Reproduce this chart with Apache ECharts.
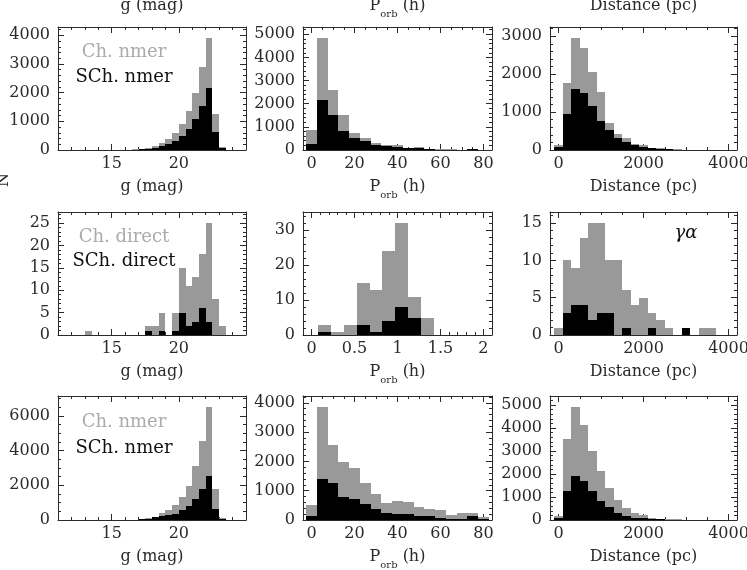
<!DOCTYPE html>
<html><head><meta charset="utf-8">
<script src="https://cdn.jsdelivr.net/npm/echarts@6/dist/echarts.min.js"></script>
<style>html,body{margin:0;padding:0;background:#fff}#c{width:747px;height:570px}</style>
</head><body><div id="c"></div>
<script>
// ---------------- data ----------------
// bin centres
const gCentres = [15.25,15.75,16.25,16.75,17.25,17.75,18.25,18.75,19.25,19.75,20.25,20.75,21.25,21.75,22.25,22.75,23.25];
const gDirectCentres = [13.25,13.75,14.25,14.75,15.25,15.75,16.25,16.75,17.25,17.75,18.25,18.75,19.25,19.75,20.25,20.75,21.25,21.75,22.25,22.75,23.25];
const pCentres = [0,5,10,15,20,25,30,35,40,45,50,55,60,65,70,75,80];
const pDirectCentres = [0.15,0.30,0.45,0.60,0.75,0.90,1.05,1.20,1.35];
const dCentres = [0,200,400,600,800,1000,1200,1400,1600,1800,2000,2200,2400,2600,2800,3000,3200,3400,3600,3800,4000];
const dDirectCentres = [0,200,400,600,800,1000,1200,1400,1600,1800,2000,2200,2400,2600,2800,3000,3200,3400,3600];
const gBinWidth = 0.5, pBinWidth = 5, pDirectBinWidth = 0.15, dBinWidth = 200;

// row 1 : nmer
const gChNmer1  = [3,5,10,20,40,80,130,230,370,600,920,1370,2000,2900,3900,1250,100];
const gSChNmer1 = [2,3,6,12,25,50,80,130,200,300,480,740,1080,1550,2150,620,80];
const pChNmer1  = [850,4830,2600,1500,750,500,300,220,200,100,110,40,30,25,20,60,10];
const pSChNmer1 = [250,2150,1500,800,520,400,230,180,150,80,100,30,20,15,10,50,5];
const dChNmer1  = [130,1780,2950,2700,2050,1520,700,420,320,150,120,60,40,30,20,10,8,5,5,3,3];
const dSChNmer1 = [90,950,1620,1500,1150,770,520,320,200,140,70,40,25,15,10,6,4,3,2,2,1];

// row 2 : direct
const gChDirect  = [1,0,0,0,0,0,0,0,0,2,2,5,0,5,15,11,13,18,25,8,2];
const gSChDirect = [0,0,0,0,0,0,0,0,0,1,0,1,0,1,5,2,3,6,3,0,0];
const pChDirect  = [3,1,3,15,13,24,32,11,5];
const pSChDirect = [1,0,0,3,1,4,8,5,0];
const dChDirect  = [1,10,9,13,15,15,10,10,6,4,5,3,2,1,0,1,0,1,1];
const dSChDirect = [0,3,4,4,2,3,3,0,1,0,0,1,0,0,0,1,0,0,0];

// row 3 : nmer
const gChNmer3  = [3,6,12,25,50,100,190,385,570,865,1350,1960,3100,4560,6500,1770,90];
const gSChNmer3 = [2,4,8,15,40,80,150,230,290,330,580,810,1190,1770,2550,620,60];
const pChNmer3  = [500,3850,2560,1970,1780,1280,900,580,650,600,450,370,350,180,230,230,100];
const pSChNmer3 = [150,1400,1250,800,720,560,380,230,200,200,150,130,60,50,50,120,30];
const dChNmer3  = [170,3500,4900,4150,3000,2150,1380,870,500,320,200,100,60,40,30,20,15,10,8,5,5];
const dSChNmer3 = [100,1270,1920,1710,1260,840,550,320,170,100,70,40,25,15,10,8,5,4,3,2,2];

// tick labels
const gTicks = [15, 20];
const pTicks = [0, 20, 40, 60, 80];
const pDirectTicks = [0, 0.5, 1, 1.5, 2];
const dTicks = [0, 2000, 4000];
const yTicks1 = [0,1000,2000,3000,4000];
const yTicks2 = [0,1000,2000,3000,4000,5000];
const yTicks3 = [0,1000,2000,3000];
const yTicks4 = [0,5,10,15,20,25];
const yTicks5 = [0,10,20,30];
const yTicks6 = [0,5,10,15];
const yTicks7 = [0,2000,4000,6000];
const yTicks8 = [0,1000,2000,3000,4000];
const yTicks9 = [0,1000,2000,3000,4000,5000];

// ---------------- styling / layout ----------------
const FONT = 'DejaVu Serif';
const INK = '#2a2a2a';
const GREY = '#999999';
const LIGHT = '#ababab';
const colLeft = [58, 303, 550], colWidth = [188, 189, 187];
const rowTop = [27, 212, 396], rowHeight = [123, 123, 124];

const names = {
  g: '{p|g (mag)}',
  p: '{p|P}{s|orb}{p| (h)}',
  d: '{p|Distance (pc)}'
};
const nameRich = {
  p: {fontFamily: FONT, fontSize: 16, color: INK, lineHeight: 26, verticalAlign: 'middle'},
  s: {fontFamily: FONT, fontSize: 10, color: INK, lineHeight: 10, verticalAlign: 'bottom'}
};

function steps(lo, hi, step) {
  const out = [];
  const n = Math.round((hi - lo) / step);
  for (let i = 0; i <= n; i++) out.push(+(lo + i * step).toFixed(6));
  return out;
}

const panels = [
  {c:0,r:0,kind:'g',centres:gCentres,w:gBinWidth,all:gChNmer1,sub:gSChNmer1,xmin:11,xmax:25,xMaj:gTicks,xMinor:steps(11,25,1),yMaj:yTicks1,yStep:200},
  {c:1,r:0,kind:'p',centres:pCentres,w:pBinWidth,all:pChNmer1,sub:pSChNmer1,xmin:-4,xmax:84,xMaj:pTicks,xMinor:steps(0,80,5),yMaj:yTicks2,yStep:200},
  {c:2,r:0,kind:'d',centres:dCentres,w:dBinWidth,all:dChNmer1,sub:dSChNmer1,xmin:-200,xmax:4200,xMaj:dTicks,xMinor:steps(0,4000,500),yMaj:yTicks3,yStep:200},
  {c:0,r:1,kind:'g',centres:gDirectCentres,w:gBinWidth,all:gChDirect,sub:gSChDirect,xmin:11,xmax:25,xMaj:gTicks,xMinor:steps(11,25,1),yMaj:yTicks4,yStep:1},
  {c:1,r:1,kind:'p',centres:pDirectCentres,w:pDirectBinWidth,all:pChDirect,sub:pSChDirect,xmin:-0.1,xmax:2.1,xMaj:pDirectTicks,xMinor:steps(0,2,0.1),yMaj:yTicks5,yStep:2},
  {c:2,r:1,kind:'d',centres:dDirectCentres,w:dBinWidth,all:dChDirect,sub:dSChDirect,xmin:-200,xmax:4200,xMaj:dTicks,xMinor:steps(0,4000,500),yMaj:yTicks6,yStep:1},
  {c:0,r:2,kind:'g',centres:gCentres,w:gBinWidth,all:gChNmer3,sub:gSChNmer3,xmin:11,xmax:25,xMaj:gTicks,xMinor:steps(11,25,1),yMaj:yTicks7,yStep:500},
  {c:1,r:2,kind:'p',centres:pCentres,w:pBinWidth,all:pChNmer3,sub:pSChNmer3,xmin:-4,xmax:84,xMaj:pTicks,xMinor:steps(0,80,5),yMaj:yTicks8,yStep:200},
  {c:2,r:2,kind:'d',centres:dCentres,w:dBinWidth,all:dChNmer3,sub:dSChNmer3,xmin:-200,xmax:4200,xMaj:dTicks,xMinor:steps(0,4000,500),yMaj:yTicks9,yStep:200}
];

const grid = [], xAxis = [], yAxis = [], series = [];
const lineStyle = {color: INK, width: 1};
const plain = v => String(+v.toFixed(6));

function axisBase(k, extra) {
  return Object.assign({
    type: 'value', gridIndex: k,
    splitLine: {show: false}, minorTick: {show: false}, minorSplitLine: {show: false}
  }, extra);
}

function renderBar(color) {
  return function (params, api) {
    const x0 = api.value(0), x1 = api.value(1), y = api.value(2);
    if (!y) return null;
    const a = api.coord([x0, y]);
    const b = api.coord([x1, 0]);
    const L = Math.round(a[0]), R = Math.round(b[0]);
    const T = Math.round(a[1]), B = Math.round(b[1]);
    return {type: 'rect', shape: {x: L, y: T, width: R - L, height: B - T},
            style: {fill: color}};
  };
}

panels.forEach((p, k) => {
  grid.push({left: colLeft[p.c], top: rowTop[p.r], width: colWidth[p.c], height: rowHeight[p.r],
             containLabel: false, outerBoundsMode: 'none'});
  const ymax = Math.max.apply(null, p.all) * 1.1;
  const yMinor = steps(0, Math.floor(ymax / p.yStep) * p.yStep, p.yStep);
  const majLabel = {show: true, margin: 6, fontFamily: FONT, fontSize: 16, color: INK, formatter: plain};
  // x axes: bottom major, bottom minor, top major, top minor
  xAxis.push(axisBase(k, {position: 'bottom', min: p.xmin, max: p.xmax,
    axisLine: {show: true, onZero: false, lineStyle},
    axisTick: {show: true, inside: true, length: 6, customValues: p.xMaj, lineStyle},
    axisLabel: Object.assign({customValues: p.xMaj}, majLabel),
    name: names[p.kind], nameLocation: 'middle', nameGap: 24,
    nameTextStyle: {rich: nameRich}}));
  xAxis.push(axisBase(k, {position: 'bottom', min: p.xmin, max: p.xmax,
    axisLine: {show: false, onZero: false},
    axisTick: {show: true, inside: true, length: 3, customValues: p.xMinor, lineStyle},
    axisLabel: {show: false}}));
  const top = {position: 'top', min: p.xmin, max: p.xmax,
    axisLine: {show: true, onZero: false, lineStyle},
    axisTick: {show: true, inside: true, length: 6, customValues: p.xMaj, lineStyle},
    axisLabel: {show: false}};
  if (p.r === 0) {
    top.name = names[p.kind]; top.nameLocation = 'middle'; top.nameGap = 8;
    top.nameTextStyle = {rich: nameRich};
  }
  xAxis.push(axisBase(k, top));
  xAxis.push(axisBase(k, {position: 'top', min: p.xmin, max: p.xmax,
    axisLine: {show: false, onZero: false},
    axisTick: {show: true, inside: true, length: 3, customValues: p.xMinor, lineStyle},
    axisLabel: {show: false}}));
  // y axes: left major, left minor, right major, right minor
  yAxis.push(axisBase(k, {position: 'left', min: 0, max: ymax,
    axisLine: {show: true, onZero: false, lineStyle},
    axisTick: {show: true, inside: true, length: 6, customValues: p.yMaj, lineStyle},
    axisLabel: Object.assign({customValues: p.yMaj}, majLabel, {margin: 8})}));
  yAxis.push(axisBase(k, {position: 'left', min: 0, max: ymax,
    axisLine: {show: false, onZero: false},
    axisTick: {show: true, inside: true, length: 3, customValues: yMinor, lineStyle},
    axisLabel: {show: false}}));
  yAxis.push(axisBase(k, {position: 'right', min: 0, max: ymax,
    axisLine: {show: true, onZero: false, lineStyle},
    axisTick: {show: true, inside: true, length: 6, customValues: p.yMaj, lineStyle},
    axisLabel: {show: false}}));
  yAxis.push(axisBase(k, {position: 'right', min: 0, max: ymax,
    axisLine: {show: false, onZero: false},
    axisTick: {show: true, inside: true, length: 3, customValues: yMinor, lineStyle},
    axisLabel: {show: false}}));

  const toData = vals => vals.map((v, i) => [p.centres[i] - p.w / 2, p.centres[i] + p.w / 2, v]);
  series.push({type: 'custom', name: 'Ch.', xAxisIndex: 4 * k, yAxisIndex: 4 * k,
    renderItem: renderBar(GREY), data: toData(p.all), encode: {x: [0, 1], y: 2}, clip: true, z: 1});
  series.push({type: 'custom', name: 'SCh.', xAxisIndex: 4 * k, yAxisIndex: 4 * k,
    renderItem: renderBar('#000'), data: toData(p.sub), encode: {x: [0, 1], y: 2}, clip: true, z: 2});
});

function label(text, x, y, color, extra) {
  return {type: 'text', x, y, silent: true, z: 100,
    style: Object.assign({text, fill: color, font: '18px "' + FONT + '"', align: 'center', verticalAlign: 'middle'}, extra || {})};
}

const graphic = [
  label('Ch. nmer', 124, 52, LIGHT),
  label('SCh. nmer', 124, 77, '#111'),
  label('Ch. direct', 124, 237, LIGHT),
  label('SCh. direct', 124, 261, '#111'),
  label('Ch. nmer', 124, 422, LIGHT),
  label('SCh. nmer', 124, 448, '#111'),
  label('\u03b3\u03b1', 686, 233, '#111', {font: 'italic 18px "' + FONT + '"'}),
  {type: 'text', x: 4, y: 180, rotation: Math.PI / 2, silent: true,
   style: {text: 'N', fill: INK, font: '16px "' + FONT + '"', align: 'center', verticalAlign: 'middle'}}
];

const chart = echarts.init(document.getElementById('c'), null, {renderer: 'canvas'});
chart.setOption({animation: false, backgroundColor: '#fff', grid, xAxis, yAxis, series, graphic});
</script></body></html>
